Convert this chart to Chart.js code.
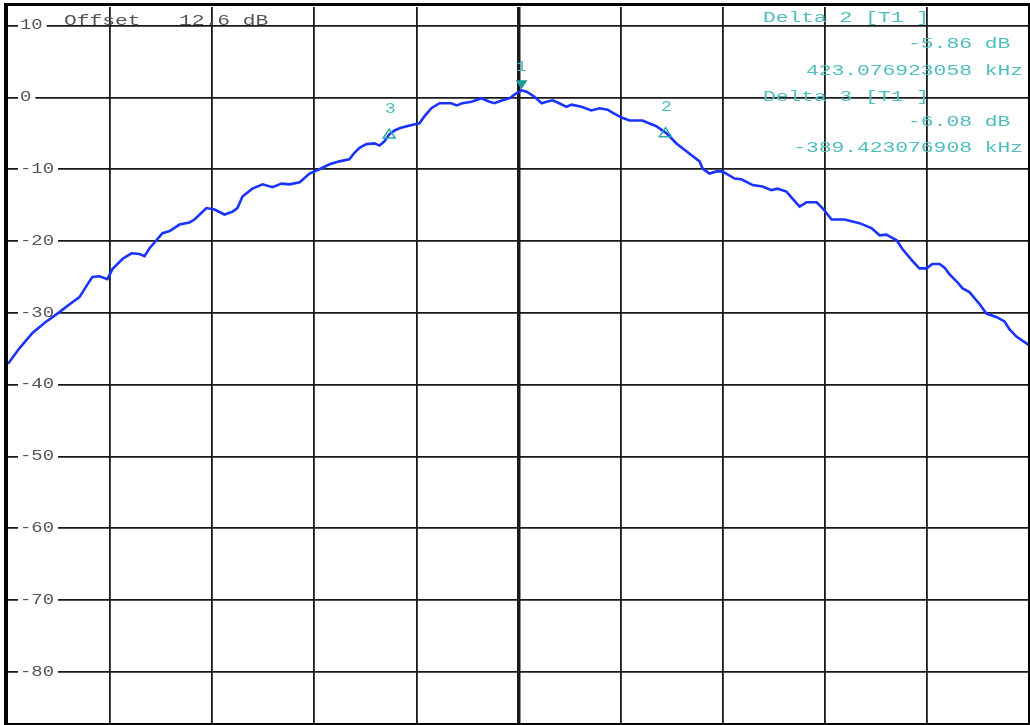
<!DOCTYPE html>
<html>
<head>
<meta charset="utf-8">
<title>Spectrum trace</title>
<script src="https://cdn.jsdelivr.net/npm/chart.js@4.4.1/dist/chart.umd.min.js"></script>
<style>
  html, body { margin: 0; padding: 0; background: #fff; }
  #wrap { width: 1030px; height: 725px; }
</style>
</head>
<body>
<div id="wrap"><canvas id="trace" width="1030" height="725"></canvas></div>
<script>
// trace: offset from centre (kHz, 300 kHz/div) and level (dB)
const freqKHz = [
  -1500, -1466, -1428, -1393, -1349, -1319, -1290, -1266, -1252, -1231,
  -1208, -1193, -1164, -1137, -1114, -1099, -1084, -1046, -1025, -996,
  -967, -952, -917, -893, -864, -840, -826, -811, -782, -752,
  -723, -696, -673, -643, -614, -585, -555, -526, -497, -482,
  -467, -447, -423, -408, -394, -379, -364, -350, -320, -291,
  -276, -256, -232, -197, -182, -165, -138, -109, -85, -71,
  -47, -26, -12, 9, 24, 47, 68, 82, 100, 115,
  141, 156, 185, 214, 238, 262, 276, 303, 326, 364,
  405, 435, 464, 502, 532, 541, 561, 582, 599, 635,
  655, 688, 717, 743, 761, 787, 805, 826, 846, 876,
  893, 920, 958, 1002, 1037, 1061, 1081, 1111, 1128, 1158,
  1178, 1199, 1216, 1237, 1252, 1266, 1287, 1305, 1325, 1355,
  1375, 1405, 1428, 1443, 1463, 1500
];
const levelDb = [
  -37.1, -34.9, -32.8, -31.4, -29.9, -28.8, -27.8, -26.0, -25.0, -24.9,
  -25.3, -23.9, -22.5, -21.7, -21.8, -22.1, -21.0, -18.9, -18.6, -17.7,
  -17.4, -17.0, -15.4, -15.6, -16.3, -15.9, -15.4, -13.8, -12.7, -12.1,
  -12.5, -12.0, -12.1, -11.8, -10.6, -10.0, -9.3, -8.9, -8.6, -7.7,
  -7.0, -6.5, -6.4, -6.7, -6.1, -5.1, -4.6, -4.3, -3.9, -3.6,
  -2.6, -1.5, -0.8, -0.8, -1.1, -0.8, -0.6, -0.1, -0.6, -0.8,
  -0.4, -0.1, 0.4, 1.0, 0.8, 0.1, -0.8, -0.6, -0.4, -0.7,
  -1.3, -1.0, -1.3, -1.8, -1.5, -1.7, -2.1, -2.8, -3.2, -3.2,
  -4.0, -5.0, -6.4, -7.8, -8.9, -9.9, -10.6, -10.3, -10.3, -11.3,
  -11.4, -12.2, -12.4, -12.9, -12.7, -13.1, -14.1, -15.2, -14.6, -14.6,
  -15.4, -17.0, -17.0, -17.5, -18.2, -19.2, -19.1, -19.9, -21.1, -22.8,
  -23.8, -23.8, -23.2, -23.2, -23.7, -24.6, -25.6, -26.6, -27.1, -28.8,
  -30.1, -30.6, -31.2, -32.3, -33.3, -34.5
];

const xTicks = [-1200, -900, -600, -300, 0, 300, 600, 900, 1200];
const yTicks = [-80, -70, -60, -50, -40, -30, -20, -10, 0, 10];
const refLevel = 12.6;

// markers: 1 = peak, 2 and 3 = delta markers
const markerNames = ['1', '2', '3'];
const markerFreq = [9, 432, -380];
const markerLevel = [1.0, -4.9, -5.1];

const offsetText = 'Offset   12.6 dB';
const readout = [
  'Delta 2 [T1 ]', '-5.86 dB ', '423.076923058 kHz',
  'Delta 3 [T1 ]', '-6.08 dB ', '-389.423076908 kHz'
];

const FONT = '14px "Liberation Mono", "DejaVu Sans Mono", monospace';
const TEAL = '#4fbdbd';

// the analyser font is wide, so stretch a mono font sideways
function wideText(ctx, text, x, y, align, sx) {
  ctx.save();
  ctx.translate(x, y);
  ctx.scale(sx, 1);
  ctx.textAlign = align;
  ctx.fillText(text, 0, 0);
  ctx.restore();
}

const overlay = {
  id: 'overlay',
  beforeDatasetsDraw(chart) {
    const { ctx, chartArea: a, scales: { y } } = chart;
    ctx.save();
    ctx.font = FONT;
    ctx.textBaseline = 'middle';
    yTicks.forEach(v => {
      const py = y.getPixelForValue(v);
      const label = String(v);
      const w = ctx.measureText(label).width * 1.35;
      ctx.fillStyle = '#fff';
      ctx.fillRect(a.left + 10, py - 3, w + 6, 6);
      ctx.fillStyle = '#555';
      wideText(ctx, label, a.left + 12, py, 'left', 1.35);
    });
    ctx.textBaseline = 'alphabetic';
    ctx.fillStyle = '#555';
    wideText(ctx, offsetText, 64, 25, 'left', 1.52);
    ctx.restore();
  },
  afterDatasetsDraw(chart) {
    const { ctx, scales: { x, y } } = chart;
    ctx.save();
    ctx.font = FONT;
    ctx.textBaseline = 'middle';
    markerNames.forEach((name, i) => {
      const px = x.getPixelForValue(markerFreq[i]);
      const py = y.getPixelForValue(markerLevel[i]);
      ctx.beginPath();
      if (i === 0) {
        ctx.moveTo(px - 6, py - 10);
        ctx.lineTo(px + 6, py - 10);
        ctx.lineTo(px, py - 1);
        ctx.closePath();
        ctx.fillStyle = '#1f9a9a';
        ctx.fill();
        ctx.fillStyle = TEAL;
        wideText(ctx, name, px, py - 23, 'center', 1.3);
      } else {
        ctx.moveTo(px - 6, py + 4);
        ctx.lineTo(px + 6, py + 4);
        ctx.lineTo(px, py - 5);
        ctx.closePath();
        ctx.strokeStyle = '#2aa8a8';
        ctx.lineWidth = 1.5;
        ctx.stroke();
        ctx.fillStyle = TEAL;
        wideText(ctx, name, px + 1, py - 25, 'center', 1.3);
      }
    });

    ctx.textBaseline = 'alphabetic';
    ctx.fillStyle = TEAL;
    const rows = [22, 48, 75, 101, 126, 152];
    readout.forEach((t, i) => {
      if (t.startsWith('Delta')) wideText(ctx, t, 763, rows[i], 'left', 1.52);
      else wideText(ctx, t, 1023, rows[i], 'right', 1.52);
    });
    ctx.restore();
  },
  afterDraw(chart) {
    const { ctx } = chart;
    ctx.save();
    ctx.fillStyle = '#000';
    ctx.fillRect(4, 3, 1026, 3);    // top
    ctx.fillRect(4, 3, 4, 722);     // left
    ctx.fillRect(1028, 3, 2, 722);  // right
    ctx.fillRect(4, 723, 1026, 2);  // bottom
    ctx.restore();
  }
};

new Chart(document.getElementById('trace'), {
  type: 'line',
  data: {
    datasets: [{
      data: freqKHz.map((f, i) => ({ x: f, y: levelDb[i] })),
      borderColor: '#1a33ff',
      borderWidth: 2.6,
      pointRadius: 0,
      tension: 0,
      fill: false
    }]
  },
  options: {
    responsive: false,
    animation: false,
    events: [],
    layout: { padding: { left: 8, right: 1, top: 7, bottom: 0 } },
    plugins: { legend: { display: false }, tooltip: { enabled: false } },
    scales: {
      x: {
        type: 'linear',
        min: -1500,
        max: 1500,
        afterBuildTicks: s => { s.ticks = xTicks.map(v => ({ value: v })); },
        ticks: { display: false },
        border: { display: false },
        grid: {
          drawTicks: false,
          color: '#1a1a1a',
          lineWidth: c => (c.tick && c.tick.value === 0 ? 3.5 : 1.8)
        }
      },
      y: {
        type: 'linear',
        min: refLevel - 100,
        max: refLevel,
        afterBuildTicks: s => { s.ticks = yTicks.map(v => ({ value: v })); },
        ticks: { display: false },
        border: { display: false },
        grid: { drawTicks: false, color: '#1a1a1a', lineWidth: 1.8 }
      }
    }
  },
  plugins: [overlay]
});
</script>
</body>
</html>
